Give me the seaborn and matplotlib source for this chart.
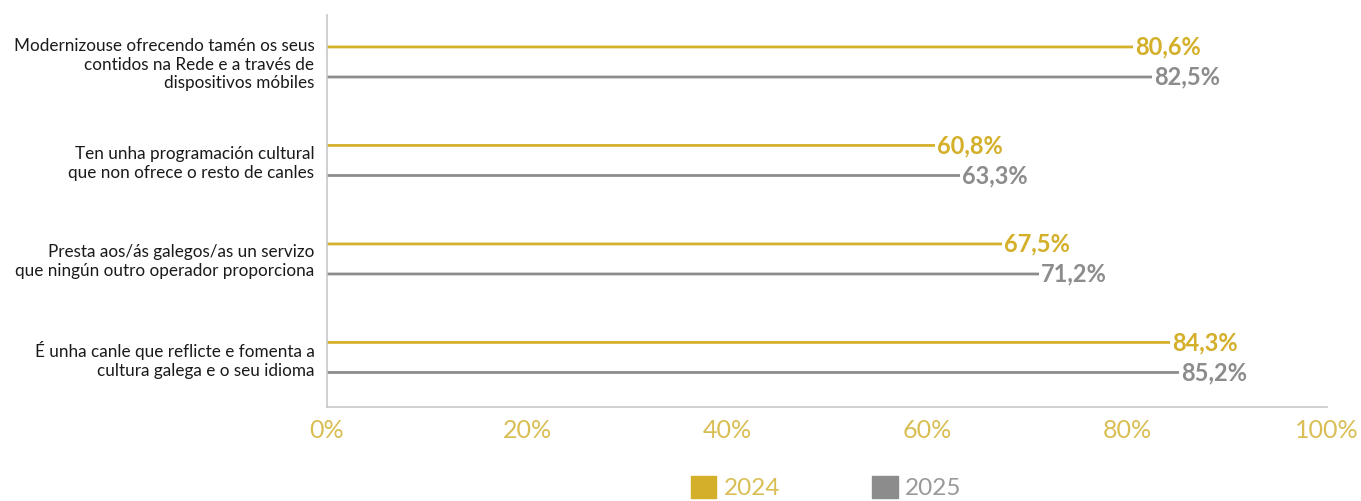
import matplotlib
matplotlib.use("Agg")
import matplotlib.pyplot as plt
import seaborn as sns
import pandas as pd

categories = [
    "Modernizouse ofrecendo tamén os seus\ncontidos na Rede e a través de\ndispositivos móbiles",
    "Ten unha programación cultural\nque non ofrece o resto de canles",
    "Presta aos/ás galegos/as un servizo\nque ningún outro operador proporciona",
    "É unha canle que reflicte e fomenta a\ncultura galega e o seu idioma",
]
years = ["2024", "2025"]
values_2024 = [80.6, 60.8, 67.5, 84.3]
values_2025 = [82.5, 63.3, 71.2, 85.2]
tick_values = [0, 20, 40, 60, 80, 100]
tick_labels = ["0%", "20%", "40%", "60%", "80%", "100%"]

gold = "#D4AF2A"
grey = "#8C8C8C"
tick_gold = "#D9BE55"

df = pd.DataFrame({
    "cat": categories * 2,
    "year": [years[0]] * 4 + [years[1]] * 4,
    "value": values_2024 + values_2025,
})

sns.set_theme(style="white")
plt.rcParams["font.family"] = ["Lato", "DejaVu Sans"]

fig = plt.figure(figsize=(13.61, 5.01), dpi=100)
ax = fig.add_axes([327 / 1361, 1 - 407 / 501, 1000 / 1361, (407 - 15) / 501])

sns.barplot(data=df, y="cat", x="value", hue="year", order=categories,
            hue_order=years, palette=[gold, grey], orient="h", width=0.61,
            legend=False, linewidth=0, saturation=1, ax=ax)

# thin line-like bars
bar_h = 0.028
for bar in ax.patches:
    c = bar.get_y() + bar.get_height() / 2
    bar.set_height(bar_h)
    bar.set_y(c - bar_h / 2)
    bar.set_snap(False)

for container, color in zip(ax.containers, [gold, grey]):
    for bar in container:
        w = bar.get_width()
        yc = bar.get_y() + bar.get_height() / 2
        ax.text(w + 0.2, yc, f"{w:.1f}%".replace(".", ","), color=color,
                fontsize=17, fontweight="bold", va="center", ha="left")

ax.set_xlim(0, 100)
ax.set_ylim(3.503, -0.477)
ax.set_xticks(tick_values)
ax.set_xticklabels(tick_labels, color=tick_gold, fontsize=18)
ax.tick_params(axis="x", direction="in", length=8, width=1, color="#C8C8C8", pad=9)
ax.tick_params(axis="y", length=0, pad=9)
for lbl in ax.get_yticklabels():
    lbl.set_fontsize(12.3)
    lbl.set_color("#1a1a1a")
    lbl.set_horizontalalignment("right")
    lbl.set_multialignment("right")
ax.set_xlabel("")
ax.set_ylabel("")
for s in ["top", "right"]:
    ax.spines[s].set_visible(False)
for s in ["left", "bottom"]:
    ax.spines[s].set_color("#C8C8C8")
    ax.spines[s].set_linewidth(1.2)

# legend
handles = [plt.Rectangle((0, 0), 1, 1, color=gold), plt.Rectangle((0, 0), 1, 1, color=grey)]
leg = fig.legend(handles, years, loc="lower center", bbox_to_anchor=(0.607, -0.04),
                 ncol=2, frameon=False, fontsize=17.5, handlelength=1.05, handleheight=1.05,
                 handletextpad=0.3, columnspacing=3.8)
for t, c in zip(leg.get_texts(), [tick_gold, "#999999"]):
    t.set_color(c)

fig.savefig("out.png", dpi=100)
